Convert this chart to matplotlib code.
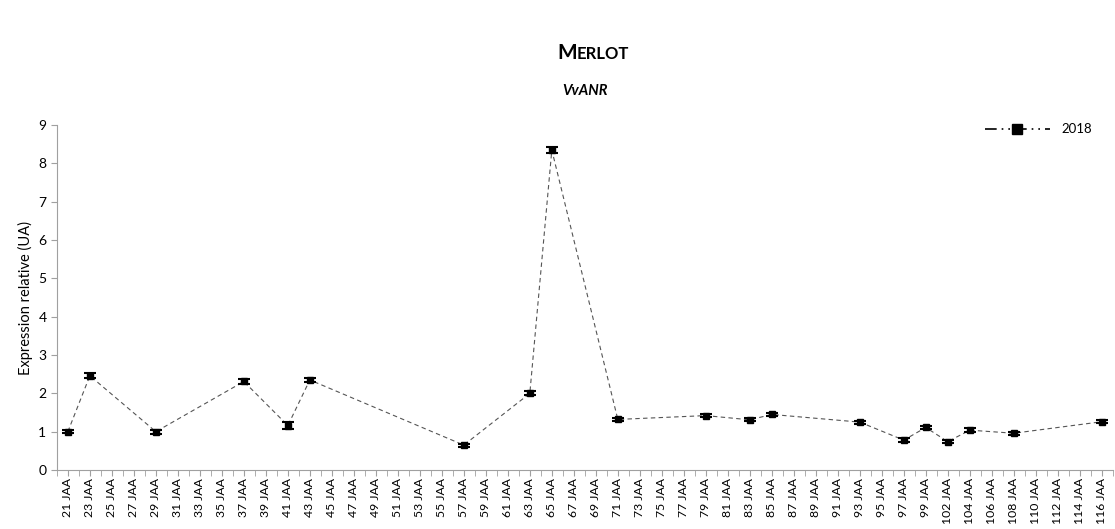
import matplotlib.pyplot as plt
from matplotlib.lines import Line2D
import numpy as np

plt.rcParams['font.family'] = ['Lato', 'DejaVu Sans']

# sampling dates (jours apres anthese)
days = list(range(21, 100, 2)) + list(range(102, 117, 2))
labels = [f"{d} JAA" for d in days]

# measured points, 2018
meas_days = [21, 23, 29, 37, 41, 43, 57, 63, 65, 71, 79, 83, 85, 93, 97, 99, 102, 104, 108, 116]
expr_2018 = [1.0, 2.46, 1.0, 2.31, 1.16, 2.35, 0.65, 2.0, 8.35, 1.32, 1.42, 1.31, 1.45,
             1.25, 0.78, 1.11, 0.74, 1.04, 0.96, 1.26]
err_2018 = [0.04, 0.07, 0.05, 0.06, 0.09, 0.05, 0.04, 0.05, 0.07, 0.05, 0.04, 0.04, 0.04,
            0.04, 0.05, 0.05, 0.04, 0.05, 0.04, 0.04]

xpos = [days.index(d) for d in meas_days]

fig = plt.figure(figsize=(11.15, 5.29), dpi=100)
ax = fig.add_axes([0.051, 0.1115, 0.947, 0.652])

ax.plot(xpos, expr_2018, linestyle=(0, (4, 3)), color='#555555', linewidth=0.8, zorder=2)
ax.errorbar(xpos, expr_2018, yerr=err_2018, fmt='s', color='black', markersize=5,
            ecolor='black', elinewidth=1, capsize=4, capthick=1.5, zorder=3)

ax.set_xlim(-0.22, len(days) - 1)
ax.set_ylim(0, 9)
ax.set_yticks(range(0, 10))
ax.set_xticks(range(len(days)))
ax.set_xticklabels(labels, rotation=90, fontsize=8.8)
ax.set_xticks(np.arange(-0.5, len(days), 1), minor=True)
ax.tick_params(axis='y', labelsize=10, length=4, color='#a0a0a0')
ax.tick_params(axis='x', which='both', length=4, color='#a0a0a0', pad=2)

for side in ['top', 'right']:
    ax.spines[side].set_visible(False)
for side in ['left', 'bottom']:
    ax.spines[side].set_color('#a0a0a0')

ax.set_ylabel('Expression relative (UA)', fontsize=10.5)

# small-caps main title: big "M" followed by smaller "ERLOT"
renderer = fig.canvas.get_renderer()
big = fig.text(0, 0.888, 'M', fontsize=15, fontweight='bold', va='baseline')
small = fig.text(0, 0.888, 'ERLOT', fontsize=12, fontweight='bold', va='baseline')
wb = big.get_window_extent(renderer).width / fig.bbox.width
ws = small.get_window_extent(renderer).width / fig.bbox.width
x0 = 0.532 - (wb + ws) / 2
big.set_x(x0)
small.set_x(x0 + wb)

ax.set_title('VvANR', fontsize=10.5, fontweight='bold', fontstyle='italic', pad=22)

handle = Line2D([], [], color='black', linestyle=(0, (7, 3, 1, 3, 1, 3)), linewidth=1.2,
                marker='s', markersize=7)
ax.legend([handle], ['2018'], loc='upper right', bbox_to_anchor=(0.985, 1.02), frameon=False,
          fontsize=9.5, handlelength=5, borderaxespad=0)

fig.savefig('out.png', dpi=100)
